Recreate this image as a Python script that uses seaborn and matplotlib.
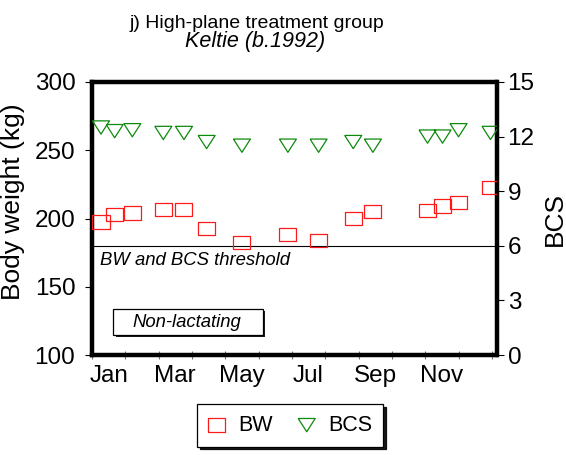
import matplotlib
matplotlib.use("Agg")
import matplotlib.pyplot as plt
import matplotlib.patheffects as pe
from matplotlib.patches import Rectangle
import seaborn as sns
import pandas as pd

# Sampling dates as fractional months from 1 January
month_pos = [0.27, 0.68, 1.21, 2.14, 2.76, 3.44, 4.50, 5.88, 6.80, 7.84,
             8.43, 10.07, 10.52, 11.00, 11.96]
# Body weight (kg)
bw = [197.5, 202.9, 204.1, 206.6, 206.6, 192.7, 182.5, 188.5, 183.9, 200.0,
      205.1, 206.1, 209.2, 211.7, 222.7]
# Body condition score
bcs = [12.5, 12.3, 12.35, 12.2, 12.2, 11.7, 11.5, 11.5, 11.5, 11.7,
       11.5, 12.0, 12.0, 12.35, 12.2]

month_labels = ["Jan", "Mar", "May", "Jul", "Sep", "Nov"]
bw_ticks = [100, 150, 200, 250, 300]
bcs_ticks = [0, 3, 6, 9, 12, 15]
threshold_bw = 180

df = pd.DataFrame({"month": month_pos, "bw": bw, "bcs": bcs})

sns.set_style("white")
plt.rcParams["font.family"] = ["Liberation Sans", "DejaVu Sans"]
plt.rcParams["text.color"] = "black"
plt.rcParams["axes.labelcolor"] = "black"
plt.rcParams["xtick.color"] = "black"
plt.rcParams["ytick.color"] = "black"

fig = plt.figure(figsize=(5.66, 4.55), dpi=100)
ax = fig.add_axes([92 / 566, 1 - 355 / 455, (496.5 - 92) / 566, (355 - 82) / 455])
ax2 = ax.twinx()

square = [(-1, -0.78), (1, -0.78), (1, 0.78), (-1, 0.78), (-1, -0.78)]
tri_down = [(-1, 0.78), (1, 0.78), (0, -0.78), (-1, 0.78)]

sns.scatterplot(data=df, x="month", y="bw", ax=ax, marker=square, s=150,
                facecolors="none", edgecolor="#ff1a1a", linewidth=0.9,
                label="BW", legend=False, zorder=3)
sns.scatterplot(data=df, x="month", y="bcs", ax=ax2, marker=tri_down, s=150,
                facecolors="none", edgecolor="#0c8a0c", linewidth=0.9,
                label="BCS", legend=False, zorder=3)

ax.axhline(threshold_bw, color="black", lw=0.8, zorder=1)

ax.set_xlim(0, 12.14)
ax.set_ylim(100, 300)
ax2.set_ylim(0, 15)
ax.set_yticks(bw_ticks)
ax2.set_yticks(bcs_ticks)
ax.set_xticks(range(13))
ax.set_xticklabels([])
ax.set_xticks([m + 0.5 for m in range(0, 12, 2)], minor=True)
ax.set_xticklabels(month_labels, minor=True)
ax.tick_params(axis="x", which="major", direction="inout", length=6, width=0.8,
               color="0.45", bottom=True)
ax.tick_params(axis="x", which="minor", length=0, pad=7, labelsize=17.5)
ax.tick_params(axis="y", direction="out", length=5, width=0.8, color="black",
               pad=7, labelsize=17.5, left=True)
ax2.tick_params(axis="y", direction="out", length=5, width=0.8, color="black",
                pad=3, labelsize=17.5, right=True)

ax.set_xlabel("")
ax.set_ylabel("Body weight (kg)", fontsize=19)
ax.yaxis.set_label_coords(-0.165, 0.56)
ax2.set_ylabel("BCS", fontsize=19)
ax2.yaxis.set_label_coords(1.115, 0.5)

for side in ["left", "right", "top", "bottom"]:
    ax.spines[side].set_visible(True)
    ax.spines[side].set_linewidth(3.2)
    ax.spines[side].set_color("black")
    ax2.spines[side].set_visible(False)

ax.text(0.25, 165.8, "BW and BCS threshold", fontsize=13.3, style="italic",
        va="baseline", ha="left", zorder=4)

box = Rectangle((0.64, 114.6), 4.5, 19.0, facecolor="white", edgecolor="black",
                lw=0.9, zorder=4)
box.set_path_effects([pe.SimplePatchShadow(offset=(1.6, -1.6), shadow_rgbFace="black",
                                           alpha=0.9), pe.Normal()])
ax.add_patch(box)
ax.text(1.2, 120.3, "Non-lactating", fontsize=13.3, style="italic",
        va="baseline", ha="left", zorder=5)

fig.text(257 / 566, 1 - 28 / 455, "j) High-plane treatment group", fontsize=14,
         ha="center", va="baseline")
fig.text(255 / 566, 1 - 47 / 455, "Keltie (b.1992)", fontsize=15.5, style="italic",
         ha="center", va="baseline")

handles = [ax.collections[0], ax2.collections[0]]
leg = ax.legend(handles, ["BW", "BCS"], loc="upper center",
                bbox_to_anchor=(290 / 566, 1 - 404 / 455), bbox_transform=fig.transFigure,
                ncol=2, fontsize=15.5, frameon=True, fancybox=False,
                shadow={"color": "black", "alpha": 0.9}, edgecolor="black",
                framealpha=1, handlelength=0.8, handletextpad=0.6,
                columnspacing=1.2, borderpad=0.5, borderaxespad=0, scatterpoints=1)
leg.get_frame().set_linewidth(0.9)

fig.savefig("out.png", dpi=100)
